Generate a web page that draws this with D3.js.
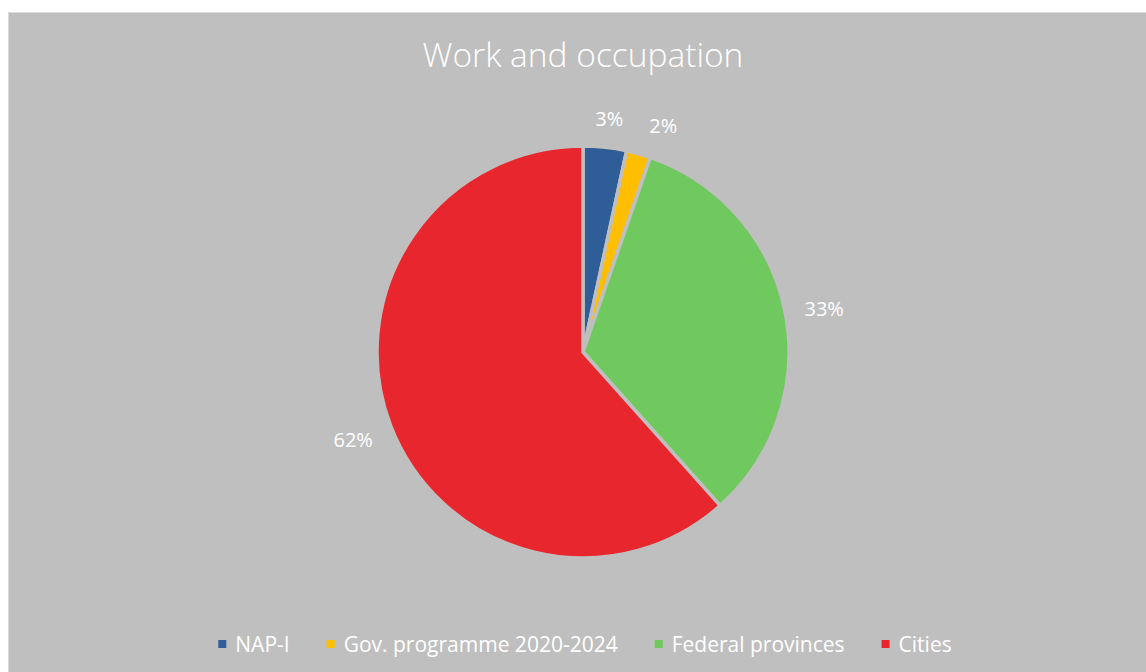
<!DOCTYPE html>
<html>
<head>
<meta charset="utf-8">
<script src="https://cdn.jsdelivr.net/npm/d3@7"></script>
<style>
  html, body { margin: 0; padding: 0; background: #ffffff; }
  svg { display: block; }
  text { font-family: "Open Sans", "Noto Sans", sans-serif; fill: #ffffff; }
</style>
</head>
<body>
<svg id="chart" width="1146" height="672"></svg>
<script>
// Share of measures by source, "Work and occupation"
const categories = ["NAP-I", "Gov. programme 2020-2024", "Federal provinces", "Cities"];
const shares = [3.4, 1.9, 33.1, 61.6];
const colors = ["#2e5d98", "#ffbf00", "#70c95f", "#e8262d"];
const title = "Work and occupation";

const W = 1146, H = 672;
const bg = "#bfbfbf";
const svg = d3.select("#chart");

// chart area
svg.append("rect")
  .attr("x", 8.5).attr("y", 12.5)
  .attr("width", W).attr("height", H)
  .attr("fill", bg)
  .attr("stroke", "#d9d9d9").attr("stroke-width", 1);

svg.append("text")
  .attr("x", 583).attr("y", 67)
  .attr("text-anchor", "middle")
  .attr("font-size", 33.5)
  .attr("font-weight", 300)
  .text(title);

const cx = 583, cy = 352, r = 206;
const g = svg.append("g").attr("transform", `translate(${cx},${cy})`);

const pie = d3.pie().sort(null).value(d => d)(shares);
const arc = d3.arc().innerRadius(0).outerRadius(r);

g.selectAll("path.slice")
  .data(pie)
  .join("path")
  .attr("class", "slice")
  .attr("d", arc)
  .attr("fill", (d, i) => colors[i])
  .attr("stroke", bg)
  .attr("stroke-width", 3.5)
  .attr("stroke-linejoin", "round");

// outside-end data labels, nudged apart when they would collide
const labelR = 226, boxW = 40, boxH = 24, minGap = 14;
const pos = pie.map(d => {
  const a = (d.startAngle + d.endAngle) / 2;
  return {
    x: Math.sin(a) * (labelR + boxW / 2),
    y: -Math.cos(a) * (labelR + boxH / 2) + 3
  };
});
for (let i = 1; i < pos.length; i++) {
  const p = pos[i - 1], q = pos[i];
  if (Math.abs(q.y - p.y) < boxH && q.x > p.x && q.x - p.x < boxW + minGap) {
    q.x = p.x + boxW + minGap;
  }
}
g.selectAll("text.lbl")
  .data(pie)
  .join("text")
  .attr("class", "lbl")
  .attr("font-size", 20)
  .attr("text-anchor", "middle")
  .attr("dominant-baseline", "central")
  .attr("x", (d, i) => pos[i].x)
  .attr("y", (d, i) => pos[i].y)
  .text(d => Math.round(d.data) + "%");

// legend
const legend = svg.append("g").attr("transform", "translate(0,644)");
const items = legend.selectAll("g.item").data(categories).join("g").attr("class", "item");
items.append("rect")
  .attr("width", 8).attr("height", 8)
  .attr("y", -4)
  .attr("fill", (d, i) => colors[i]);
items.append("text")
  .attr("x", 17)
  .attr("font-size", 21)
  .attr("dominant-baseline", "central")
  .text(d => d);

// lay out legend items centered in the chart
const gap = 37;
let widths = [];
items.each(function () { widths.push(this.getBBox().width); });
const total = d3.sum(widths) + gap * (widths.length - 1);
let x0 = 8 + (W - 8) / 2 - total / 2 + 8;
items.attr("transform", (d, i) => {
  const t = `translate(${x0},0)`;
  x0 += widths[i] + gap;
  return t;
});
</script>
</body>
</html>
